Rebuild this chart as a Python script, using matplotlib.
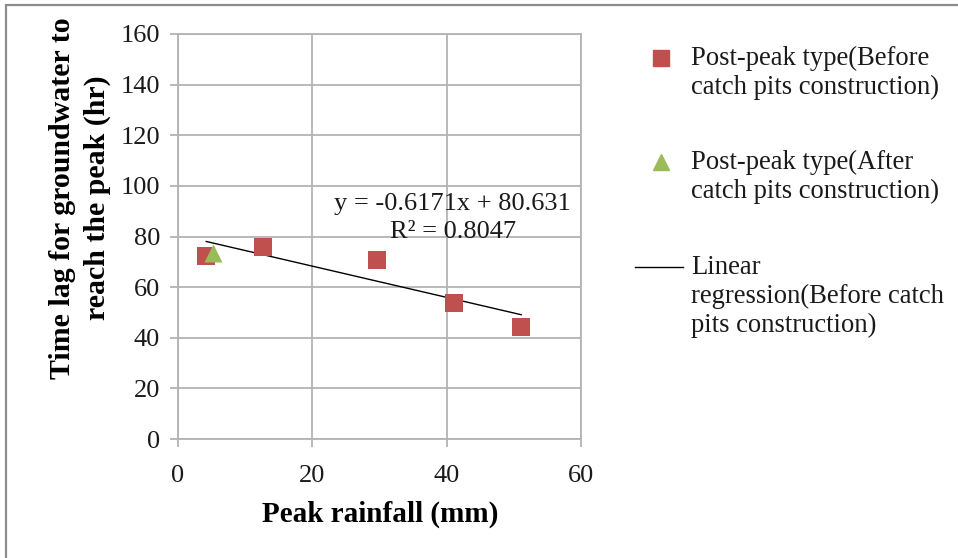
import matplotlib
matplotlib.use("Agg")
import matplotlib.pyplot as plt
from matplotlib.lines import Line2D
from matplotlib.patches import Rectangle
import numpy as np

# ---- data ----
before_x = [4.2, 12.6, 29.7, 41.1, 51.1]
before_y = [72.1, 76.0, 70.9, 53.9, 44.4]
after_x = [5.2]
after_y = [73.3]
fit_slope = -0.6171
fit_intercept = 80.631
fit_r2 = 0.8047
x_ticks = [0, 20, 40, 60]
y_ticks = [0, 20, 40, 60, 80, 100, 120, 140, 160]
legend_labels = [
    ["Post-peak type(Before", "catch pits construction)"],
    ["Post-peak type(After", "catch pits construction)"],
    ["Linear", "regression(Before catch", "pits construction)"],
]
xlabel = "Peak rainfall (mm)"
ylabel = "Time lag for groundwater to\nreach the peak (hr)"

RED = "#C0504D"
GREEN = "#9BBB59"
GRID = "#B3B3B3"
FONT = "Liberation Serif"

W, H = 958, 558
fig = plt.figure(figsize=(W / 100, H / 100), dpi=100)
plt.rcParams["font.family"] = [FONT, "DejaVu Serif"]

def fx(px):
    return px / W

def fy(py):
    return 1 - py / H

# outer chart border (extends past right/bottom edges)
fig.patches.append(Rectangle((fx(6), fy(H + 20)), 1.2, fy(5) - fy(H + 20),
                             transform=fig.transFigure, fill=False,
                             edgecolor="#8C8C8C", linewidth=1.6))

ax = fig.add_axes([fx(178), fy(439), fx(581) - fx(178), fy(34) - fy(439)])
ax.set_xlim(0, 60)
ax.set_ylim(0, 160)
ax.set_xticks(x_ticks)
ax.set_yticks(y_ticks)
ax.grid(True, color=GRID, linewidth=1.3)
ax.set_axisbelow(True)
for s in ax.spines.values():
    s.set_color(GRID)
    s.set_linewidth(1.3)
ax.tick_params(axis="both", direction="out", length=6, width=1.3, color=GRID,
               labelsize=19, labelcolor="#1a1a1a")
ax.tick_params(axis="x", pad=13)
ax.tick_params(axis="y", pad=7)

# trend line
lx = np.array([min(before_x), max(before_x)])
ax.plot(lx, fit_slope * lx + fit_intercept, color="black", linewidth=1.0, zorder=3)

ax.scatter(before_x, before_y, marker="s", s=13 ** 2, color=RED, zorder=4, linewidths=0)
ax.scatter(after_x, after_y, marker="^", s=13 ** 2, color=GREEN, zorder=5, linewidths=0)

ax.text(40.9, 87.3, f"y = {fit_slope}x + {fit_intercept}\nR\u00b2 = {fit_r2}",
        ha="center", va="center", fontsize=19, linespacing=1.35, color="#1a1a1a")

# axis titles
fig.text(fx(380), fy(514), xlabel, ha="center", va="center", fontsize=21,
         fontweight="bold")
fig.text(fx(80), fy(198), ylabel, ha="center", va="center", rotation=90,
         fontsize=21.5, fontweight="bold", linespacing=1.35)

# legend (manual)
first_lines = [58, 162, 267]
step = 29
fig.add_artist(Line2D([fx(661)], [fy(58)], marker="s", markersize=11.5, color=RED,
                      linestyle="none", transform=fig.transFigure))
fig.add_artist(Line2D([fx(661)], [fy(162)], marker="^", markersize=11.5, color=GREEN,
                      linestyle="none", transform=fig.transFigure))
fig.add_artist(Line2D([fx(635), fx(683)], [fy(267), fy(267)], color="black",
                      linewidth=1.0, transform=fig.transFigure))
for y0, lines in zip(first_lines, legend_labels):
    for i, t in enumerate(lines):
        fig.text(fx(691), fy(y0 + i * step), t, ha="left", va="center",
                 fontsize=19.2, color="#1a1a1a")

fig.savefig("out.png", dpi=100)
